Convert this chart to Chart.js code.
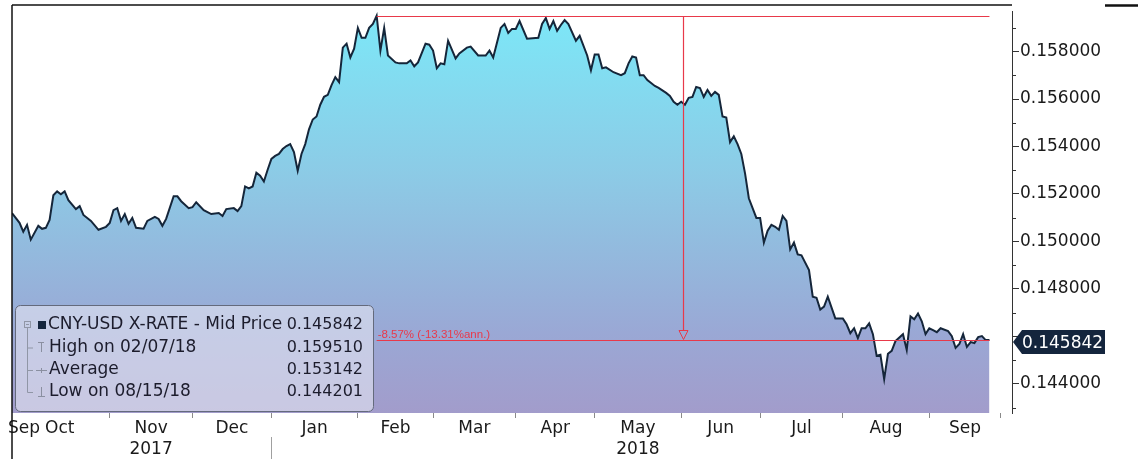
<!DOCTYPE html>
<html><head><meta charset="utf-8">
<script src="https://cdn.jsdelivr.net/npm/chart.js@4.4.1/dist/chart.umd.min.js"></script>
<style>html,body{margin:0;padding:0;background:#fff;overflow:hidden}#wrap{width:1138px;height:459px;position:relative}</style>
</head><body><div id="wrap"><canvas id="c" width="1138" height="459"></canvas></div>
<script>
// Trading days counted from 2017-09-26 (weekdays)
const tradingDay = [
0,2,3,4,5,7,8,9,10,11,
12,13,14,15,17,18,19,21,23,25,
26,27,28,29,30,31,32,33,35,36,
38,39,40,41,43,44,45,47,48,49,
51,52,53,55,56,57,59,60,61,62,
63,64,65,66,67,68,69,70,71,72,
73,74,75,76,77,78,79,80,81,82,
83,84,85,86,87,88,89,90,91,92,
93,94,95,96,97,98,99,100,102,103,
105,106,107,108,110,111,112,113,114,115,
116,118,119,121,122,124,126,127,128,130,
131,132,133,134,135,137,140,141,142,143,
144,145,146,147,148,150,151,153,154,155,
156,157,158,160,162,163,164,165,166,167,
168,169,170,171,172,174,175,176,177,178,
179,180,181,182,183,184,185,186,187,188,
189,190,191,192,193,194,195,196,198,199,
200,201,202,203,204,205,206,207,208,209,
210,212,213,214,215,216,217,219,221,222,
223,224,225,226,227,228,229,230,231,232,
233,234,235,237,238,239,240,241,242,243,
244,245,246,247,249,250,251,252,253,254,
255,256,257,258,259,260
];
const midPrice = [
0.151196,0.150781,0.150407,0.150698,0.150075,0.150656,0.150532,0.150573,0.150905,0.151942,
0.152108,0.151984,0.152108,0.151735,0.151362,0.151486,0.151113,0.150864,0.150490,0.150615,
0.150781,0.151320,0.151403,0.150864,0.151154,0.150739,0.150988,0.150573,0.150532,0.150864,
0.151030,0.150947,0.150656,0.150947,0.151901,0.151901,0.151694,0.151403,0.151445,0.151652,
0.151320,0.151237,0.151154,0.151196,0.151071,0.151362,0.151403,0.151279,0.151486,0.152316,
0.152233,0.152316,0.152897,0.152772,0.152523,0.153021,0.153478,0.153602,0.153685,0.153892,
0.154017,0.154100,0.153768,0.152980,0.153685,0.154100,0.154722,0.155137,0.155262,0.155760,
0.156091,0.156174,0.156589,0.156921,0.156714,0.158166,0.158332,0.157751,0.158124,0.158996,
0.158581,0.158581,0.158996,0.159162,0.159510,0.158041,0.158996,0.157834,0.157544,0.157502,
0.157502,0.157627,0.157378,0.157544,0.158332,0.158290,0.158041,0.157295,0.157502,0.157461,
0.158456,0.157710,0.157917,0.158166,0.158207,0.157834,0.157834,0.158041,0.157751,0.158996,
0.159162,0.158788,0.158954,0.158954,0.159286,0.158539,0.158581,0.159162,0.159411,0.158954,
0.159286,0.158871,0.159120,0.159328,0.159162,0.158456,0.158664,0.157834,0.157212,0.157876,
0.157876,0.157295,0.157336,0.157129,0.157004,0.157087,0.157502,0.157793,0.157751,0.157004,
0.157004,0.156797,0.156672,0.156548,0.156465,0.156257,0.156133,0.155884,0.155760,0.155884,
0.155760,0.156050,0.156091,0.156506,0.156465,0.156091,0.156382,0.156133,0.156299,0.156174,
0.155262,0.155220,0.154183,0.154432,0.154100,0.153685,0.152855,0.151818,0.150988,0.150988,
0.149951,0.150449,0.150698,0.150615,0.150490,0.151071,0.150864,0.149661,0.149951,0.149453,
0.149412,0.148789,0.147669,0.147628,0.147130,0.147254,0.147669,0.146756,0.146756,0.146507,
0.146134,0.146341,0.145926,0.146341,0.146341,0.146549,0.146092,0.145180,0.145221,0.144201,
0.145263,0.145387,0.145802,0.146092,0.145428,0.146839,0.146715,0.146964,0.146632,0.146092,
0.146341,0.146258,0.146175,0.146341,0.146217,0.146009,0.145511,0.145677,0.146092,0.145553,
0.145760,0.145719,0.145968,0.146009,0.145843,0.145842
];
// Month boundaries (trading-day index of first trading day of each month)
const monthStartDays = [26,48,69,92,112,134,155,178,199,221,244,263];
const monthLabels = ['Sep','Oct','Nov','Dec','Jan','Feb','Mar','Apr','May','Jun','Jul','Aug','Sep'];
const monthLabelDays = [3.2,12.7,37,58.5,80.5,102,123,144.5,166.5,188.5,210,232.5,253.5];
const yearLabels = {Nov:'2017', May:'2018'};
const yearBoundaryDay = 69;
const yTicks = [0.144,0.146,0.148,0.150,0.152,0.154,0.156,0.158];
const yMinorTicks = [0.143,0.145,0.147,0.149,0.151,0.153,0.155,0.157,0.159];
const legendLabels = ['CNY-USD X-RATE - Mid Price','High on 02/07/18','Average','Low on 08/15/18'];
const legendValues = ['0.145842','0.159510','0.153142','0.144201'];
const highDay = 97, highValue = 0.159510;
const lastDay = 260, lastValue = 0.145842;
const changeText = '-8.57% (-13.31%ann.)';

const FONT = '"DejaVu Sans", sans-serif';
const RED = '#e8394a';

const labelMap = {};
monthLabelDays.forEach((d,i)=>{ const m = monthLabels[i]; labelMap[d] = yearLabels[m] ? [m, yearLabels[m]] : m; });

const overlay = {
  id:'overlay',
  afterDatasetsDraw(chart){
    const {ctx, scales:{x,y}, chartArea:a} = chart;
    ctx.save();
    // minor y ticks
    ctx.strokeStyle = '#333'; ctx.lineWidth = 1;
    yMinorTicks.forEach(v=>{ const py = Math.round(y.getPixelForValue(v))+0.5; ctx.beginPath(); ctx.moveTo(a.right, py); ctx.lineTo(a.right+4, py); ctx.stroke(); });
    // high / last annotation lines
    const xH = x.getPixelForValue(highDay), xE = x.getPixelForValue(lastDay);
    const yH = Math.round(y.getPixelForValue(highValue))+0.5, yL = Math.round(y.getPixelForValue(lastValue))+0.5;
    const xm = Math.round(x.getPixelForValue((highDay+lastDay)/2))+0.5;
    ctx.strokeStyle = RED; ctx.lineWidth = 1.2;
    ctx.beginPath(); ctx.moveTo(xH, yH); ctx.lineTo(xE, yH); ctx.stroke();
    ctx.beginPath(); ctx.moveTo(xH, yL); ctx.lineTo(xE, yL); ctx.stroke();
    ctx.beginPath(); ctx.moveTo(xm, yH); ctx.lineTo(xm, yL-10); ctx.stroke();
    ctx.lineWidth = 1;
    ctx.beginPath(); ctx.moveTo(xm-4.5, yL-10); ctx.lineTo(xm+4.5, yL-10); ctx.lineTo(xm, yL-1); ctx.closePath(); ctx.stroke();
    ctx.fillStyle = RED; ctx.font = '11.5px "Liberation Sans", sans-serif'; ctx.textBaseline = 'alphabetic'; ctx.textAlign='left';
    ctx.fillText(changeText, xH+1, yL-3);
    // legend box
    const bx=15, by=305, bw=358, bh=106;
    ctx.beginPath(); ctx.roundRect(bx+0.5, by+0.5, bw, bh, 5);
    ctx.fillStyle = 'rgba(226,228,240,0.62)'; ctx.fill();
    ctx.strokeStyle = '#646a7c'; ctx.lineWidth = 1; ctx.stroke();
    const rows = [325, 347.5, 370, 392];
    // tree
    ctx.strokeStyle = '#9096a6';
    ctx.strokeRect(24.5, 321.5, 6, 6);
    ctx.beginPath(); ctx.moveTo(26, 324.5); ctx.lineTo(29, 324.5); ctx.stroke();
    ctx.beginPath(); ctx.moveTo(27.5, 328); ctx.lineTo(27.5, 392.5); ctx.stroke();
    [1,2,3].forEach(i=>{ ctx.beginPath(); ctx.moveTo(27.5, rows[i]+0.5); ctx.lineTo(33, rows[i]+0.5); ctx.stroke(); });
    ctx.fillStyle = '#14253d'; ctx.fillRect(38, 321, 8, 8);
    ctx.strokeStyle = '#8a8fa0';
    // T icon
    ctx.beginPath(); ctx.moveTo(38, 342.5); ctx.lineTo(44, 342.5); ctx.moveTo(41.5, 342.5); ctx.lineTo(41.5, 352); ctx.stroke();
    // + icon
    ctx.beginPath(); ctx.moveTo(36, 370.5); ctx.lineTo(47, 370.5); ctx.moveTo(41.5, 368); ctx.lineTo(41.5, 373); ctx.stroke();
    // ⊥ icon
    ctx.beginPath(); ctx.moveTo(41.5, 387); ctx.lineTo(41.5, 396.5); ctx.moveTo(38, 396.5); ctx.lineTo(45, 396.5); ctx.stroke();
    ctx.fillStyle = '#1c1c2c'; ctx.textBaseline = 'middle';
    legendLabels.forEach((t,i)=>{
      ctx.font = '17px ' + FONT; ctx.textAlign='left'; ctx.fillText(t, i===0?48:49, rows[i]);
      ctx.font = '16px ' + FONT; ctx.textAlign='right'; ctx.fillText(legendValues[i], 363, rows[i]); });
    ctx.restore();
  },
  afterDraw(chart){
    const {ctx, scales:{x,y}, chartArea:a} = chart;
    ctx.save();
    // frame lines
    ctx.strokeStyle = '#111'; ctx.lineWidth = 1.5;
    ctx.beginPath(); ctx.moveTo(12, 5); ctx.lineTo(a.right, 5); ctx.stroke();
    ctx.lineWidth = 2.5; ctx.beginPath(); ctx.moveTo(1105, 5.5); ctx.lineTo(1138, 5.5); ctx.stroke();
    ctx.lineWidth = 1.5; ctx.beginPath(); ctx.moveTo(12, 5); ctx.lineTo(12, 459); ctx.stroke();
    // year divider
    const xd = Math.round(x.getPixelForValue(yearBoundaryDay))+0.5;
    ctx.strokeStyle = '#a0a0a0'; ctx.lineWidth = 1;
    ctx.beginPath(); ctx.moveTo(xd, 437); ctx.lineTo(xd, 459); ctx.stroke();
    // last value tag
    const yl = y.getPixelForValue(lastValue) + 2;
    ctx.fillStyle = '#14253d';
    ctx.beginPath(); ctx.moveTo(a.right+1, yl); ctx.lineTo(a.right+10, yl-12); ctx.lineTo(1105, yl-12); ctx.lineTo(1105, yl+12); ctx.lineTo(a.right+10, yl+12); ctx.closePath(); ctx.fill();
    ctx.fillStyle = '#fff'; ctx.font = '17px ' + FONT; ctx.textBaseline = 'middle'; ctx.textAlign = 'left';
    ctx.fillText(lastValue.toFixed(6), a.right+10, yl+1);
    ctx.restore();
  }
};

new Chart(document.getElementById('c'), {
  type:'line',
  data:{ datasets:[{
    data: tradingDay.map((d,i)=>({x:d, y:midPrice[i]})),
    borderColor:'#15263a', borderWidth:2, pointRadius:0, tension:0, fill:'start',
    backgroundColor:(c)=>{ const a=c.chart.chartArea; if(!a) return '#8cc9e6';
      const g=c.chart.ctx.createLinearGradient(0,a.top,0,a.bottom);
      g.addColorStop(0,'#7ce8f8'); g.addColorStop(0.4,'#8ccbe6'); g.addColorStop(0.8,'#9aa8d5'); g.addColorStop(1,'#a29ccb'); return g; }
  }]},
  options:{
    responsive:false, animation:false, devicePixelRatio:1,
    layout:{padding:{left:12, top:5, right:0, bottom:0}},
    plugins:{legend:{display:false}, tooltip:{enabled:false}},
    scales:{
      x:{ type:'linear', min:0, max:266, position:'bottom',
        afterBuildTicks:(s)=>{ s.ticks = monthStartDays.map(v=>({value:v})).concat(monthLabelDays.map(v=>({value:v}))); },
        afterFit:(s)=>{ s.height = 46; },
        border:{display:false},
        grid:{drawOnChartArea:false, tickLength:5, tickColor:(c)=> (c.tick && monthStartDays.includes(c.tick.value)) ? '#8a8a8a' : 'rgba(0,0,0,0)'},
        ticks:{ autoSkip:false, maxRotation:0, padding:0, color:'#1a1a1a', font:{family:FONT, size:17, lineHeight:1.25},
          callback:(v)=> labelMap[v] !== undefined ? labelMap[v] : '' }
      },
      y:{ type:'linear', position:'right', min:0.14277, max:0.1597,
        afterBuildTicks:(s)=>{ s.ticks = yTicks.map(v=>({value:v})); },
        afterFit:(s)=>{ s.width = 126; },
        border:{display:true, color:'#333', width:1},
        grid:{drawOnChartArea:false, tickLength:7, tickColor:'#333'},
        ticks:{ padding:1, color:'#1a1a1a', font:{family:FONT, size:17},
          callback:(v)=> Math.abs(v-0.146)<1e-7 ? '' : v.toFixed(6) }
      }
    }
  },
  plugins:[overlay]
});
</script></body></html>
